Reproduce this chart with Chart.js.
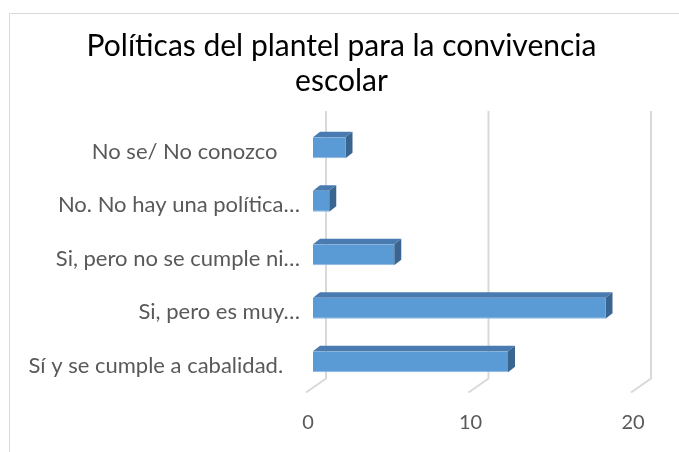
<!DOCTYPE html>
<html>
<head>
<meta charset="utf-8">
<script src="https://cdn.jsdelivr.net/npm/chart.js@4.4.1/dist/chart.umd.min.js"></script>
<style>
  html, body { margin: 0; padding: 0; background: #fff; overflow: hidden; }
  #wrap { width: 679px; height: 452px; }
</style>
</head>
<body>
<div id="wrap"><canvas id="politicasChart"></canvas></div>
<script>
// =======================================================
// Datos
// =======================================================

const categorias = [
    "No se/ No conozco    ",
    "No. No hay una política…",
    "Si, pero no se cumple ni…",
    "Si, pero es muy…",
    "Sí y se cumple a cabalidad.   "
];

const respuestas = [2, 1, 5, 18, 12];

const ticksX = [0, 10, 20];

const titulo = ["Políticas del plantel para la convivencia", "escolar"];


// =======================================================
// Efecto 3D (caras de las barras, pared del fondo y piso)
// =======================================================

const efecto3D = {

    id: "efecto3D",

    afterLayout(chart){
        // en Excel el título va centrado sobre todo el ancho
        if (chart.titleBlock){
            chart.titleBlock.left = 0;
            chart.titleBlock.right = chart.width + 4;
        }
    },

    beforeDraw(chart){
        const ctx = chart.ctx;
        ctx.save();
        ctx.strokeStyle = "#d9d9d9";
        ctx.lineWidth = 1;
        ctx.beginPath();
        ctx.moveTo(9.5, chart.height);
        ctx.lineTo(9.5, 13.5);
        ctx.lineTo(chart.width, 13.5);
        ctx.stroke();
        ctx.restore();
    },

    beforeDatasetsDraw(chart){
        const ctx = chart.ctx;
        const area = chart.chartArea;
        const x = chart.scales.x;
        ctx.save();
        ctx.strokeStyle = "#d9d9d9";
        ctx.lineWidth = 2;
        ticksX.forEach(v=>{
            const px = x.getPixelForValue(v);
            ctx.beginPath();
            ctx.moveTo(px + 13, area.top - 10);
            ctx.lineTo(px + 13, area.bottom - 10);
            ctx.lineTo(px - 7, area.bottom + 4);
            ctx.stroke();
        });
        ctx.restore();
    },

    afterDatasetsDraw(chart){
        const ctx = chart.ctx;
        const dx = 7, dy = 5.5;
        chart.getDatasetMeta(0).data.forEach(bar=>{
            const top = bar.y - bar.height / 2;
            const bottom = bar.y + bar.height / 2;
            const left = bar.base;
            const right = bar.x;

            ctx.save();

            ctx.fillStyle = "#4a7bb0";
            ctx.beginPath();
            ctx.moveTo(left, top);
            ctx.lineTo(left + dx, top - dy);
            ctx.lineTo(right + dx, top - dy);
            ctx.lineTo(right, top);
            ctx.closePath();
            ctx.fill();

            ctx.fillStyle = "#3a6590";
            ctx.beginPath();
            ctx.moveTo(right, top);
            ctx.lineTo(right + dx, top - dy);
            ctx.lineTo(right + dx, bottom - dy);
            ctx.lineTo(right, bottom);
            ctx.closePath();
            ctx.fill();

            ctx.restore();
        });
    }
};


// =======================================================
// Gráfica
// =======================================================

new Chart(document.getElementById("politicasChart"),{

    type:"bar",

    data:{

        labels:categorias,

        datasets:[{

            label:"Respuestas",

            data:respuestas,

            backgroundColor:"#5b9bd5",

            borderColor:"#8ab8e4",

            borderWidth:{left:1, bottom:1, top:0, right:0},

            categoryPercentage:1,

            barPercentage:0.39

        }]

    },

    options:{

        responsive:true,

        maintainAspectRatio:false,

        animation:false,

        indexAxis:'y',

        layout:{
            padding:{left:0, right:41, top:0, bottom:0}
        },

        scales:{

            x:{
                min:0,
                max:20,
                grid:{display:false, drawTicks:false},
                border:{display:false},
                afterBuildTicks:s=>{ s.ticks = ticksX.map(v=>({value:v})); },
                afterFit:s=>{ s.height = 63.5; },
                ticks:{
                    padding:22,
                    labelOffset:-5,
                    color:"#595959",
                    font:{family:"Lato", size:20}
                }
            },

            y:{
                grid:{display:false, drawTicks:false},
                border:{display:false},
                afterFit:s=>{ s.width = 313; },
                ticks:{
                    padding:13,
                    labelOffset:4,
                    color:"#595959",
                    font:{family:"Lato", size:22}
                }
            }

        },

        plugins:{
            legend:{display:false},
            tooltip:{enabled:false},
            title:{
                display:true,
                text:titulo,
                color:"#000000",
                font:{family:"Lato", size:30, weight:"normal", lineHeight:1.1667},
                padding:{top:28.5, bottom:22.5}
            }
        }

    },

    plugins:[efecto3D]

});
</script>
</body>
</html>
